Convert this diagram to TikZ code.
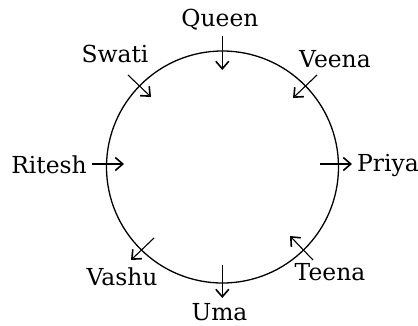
\documentclass[tikz,border=0pt]{standalone}
\usepackage{fontspec}
\setmainfont{DejaVu Serif}
\usetikzlibrary{arrows.meta}
\begin{document}
\begin{tikzpicture}[x=1bp,y=-1bp,
  lbl/.style={inner sep=0pt,anchor=base,font=\fontsize{23.5}{26}\selectfont},
  arr/.style={line width=1.1bp,-{Straight Barb[length=7.5bp,width=13bp,line width=1.6bp]}},
  ring/.style={line width=1.3bp}]
\useasboundingbox (0,0) rectangle (418,326);
\node[ring,draw,circle,minimum size=232bp,inner sep=0pt] (c) at (222.5,167) {};
% labels
\node[lbl] (queen) at (220,26) {Queen};
\node[lbl] (swati) at (115,62) {Swati};
\node[lbl] (veena) at (335,67) {Veena};
\node[lbl] (ritesh) at (49,173) {Ritesh};
\node[lbl] (priya) at (388,171) {Priya};
\node[lbl] (vashu) at (122,285) {Vashu};
\node[lbl] (uma) at (219.5,320) {Uma};
\node[lbl] (teena) at (330,280) {Teena};
% arrow ends
\coordinate (q1) at (222.3,36); \coordinate (q2) at (222.3,70);
\coordinate (s1) at (128,75); \coordinate (s2) at (151,97);
\coordinate (v1) at (317,75); \coordinate (v2) at (293,98);
\coordinate (r1) at (92,164); \coordinate (r2) at (124,164);
\coordinate (p1) at (320,164); \coordinate (p2) at (352,164);
\coordinate (va1) at (154,238); \coordinate (va2) at (131,260);
\coordinate (u1) at (222.3,265); \coordinate (u2) at (222.3,298);
\coordinate (t1) at (313,260); \coordinate (t2) at (290,236);
\draw[arr] (q1) -- (q2);
\draw[arr] (s1) -- (s2);
\draw[arr] (v1) -- (v2);
\draw[arr] (r1) -- (r2);
\draw[arr] (p1) -- (p2);
\draw[arr] (va1) -- (va2);
\draw[arr] (u1) -- (u2);
\draw[arr] (t1) -- (t2);
\end{tikzpicture}
\end{document}
